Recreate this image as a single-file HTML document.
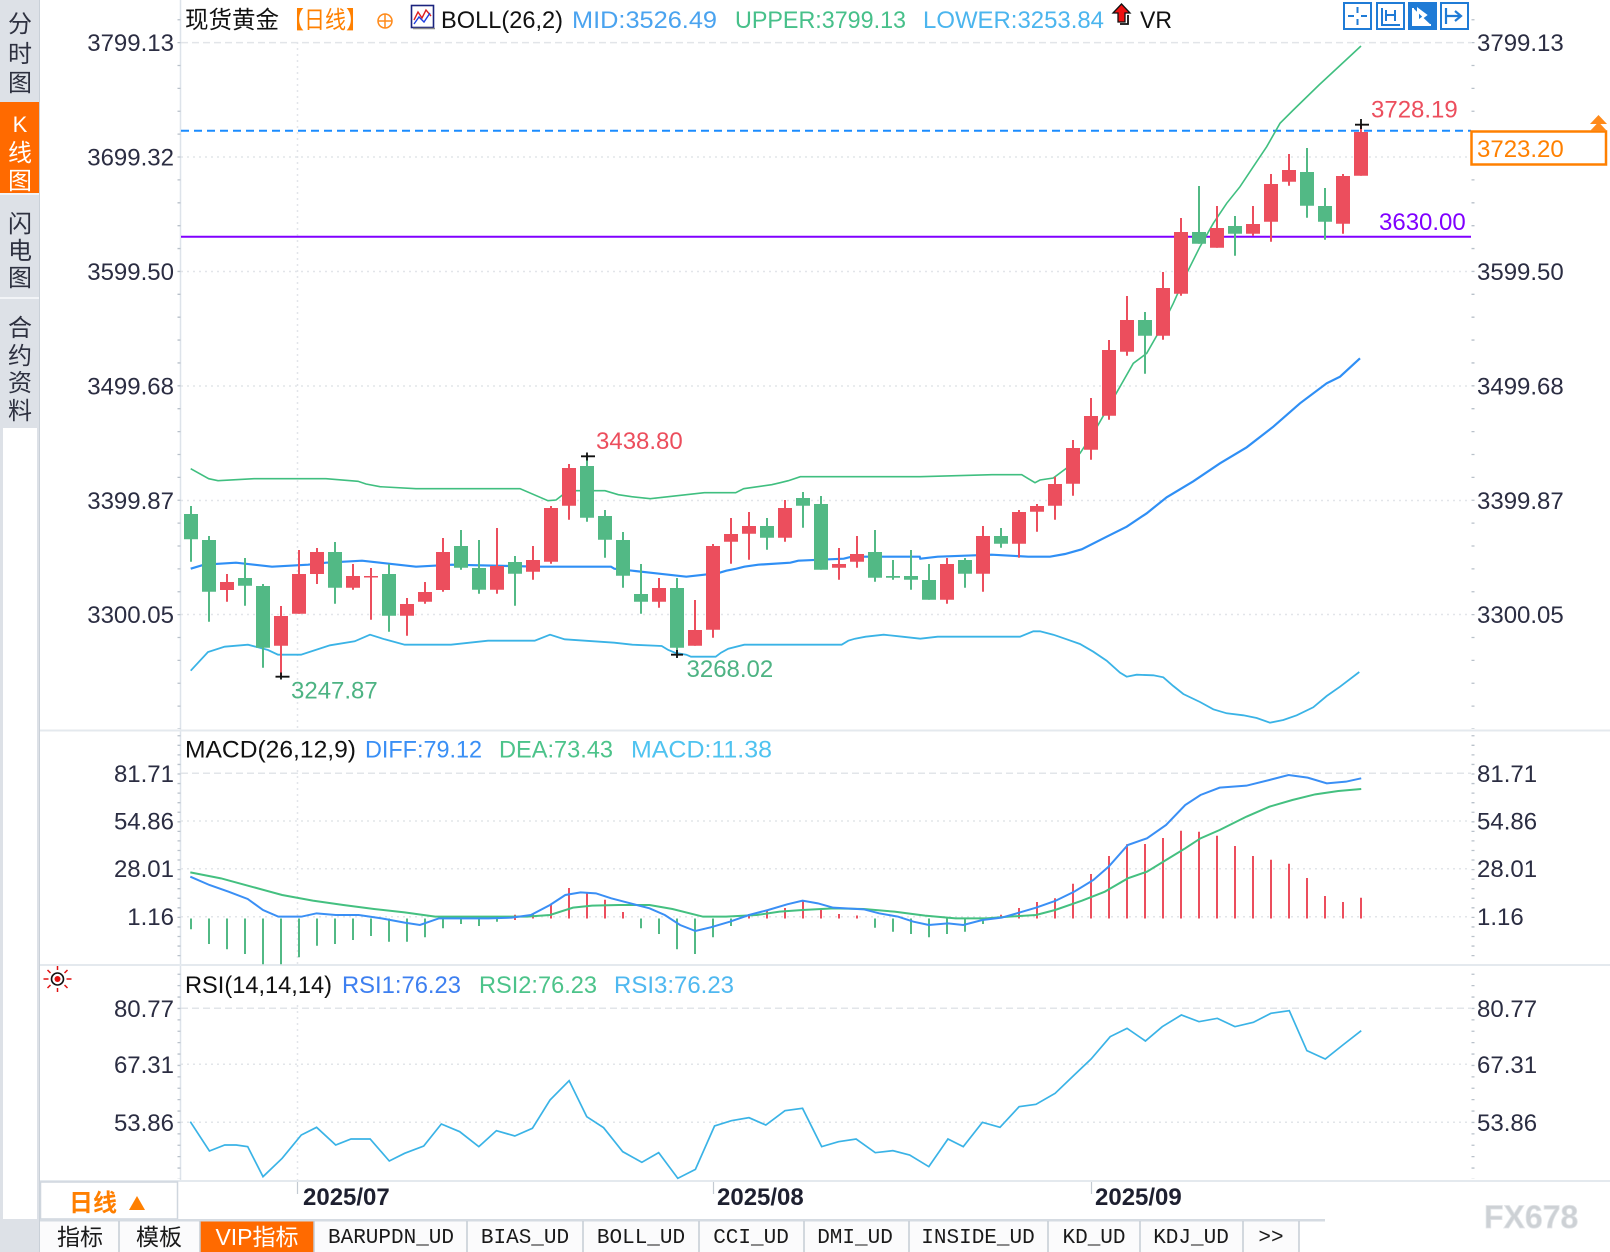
<!DOCTYPE html>
<html><head><meta charset="utf-8"><title>现货黄金 日线</title>
<style>
html,body{margin:0;padding:0;background:#fff;}
body{width:1610px;height:1252px;overflow:hidden;}
svg{display:block;}
text{font-family:"Liberation Sans","Noto Sans CJK SC",sans-serif;}
.lab{font-size:24px;fill:#2b2d42;}
.cj{font-family:"Liberation Sans","Noto Sans CJK SC",sans-serif;}
.tab{font-family:"Liberation Mono","Noto Sans CJK SC",monospace;font-size:21px;fill:#1a1a1a;}
</style></head>
<body>
<svg width="1610" height="1252" viewBox="0 0 1610 1252" xmlns="http://www.w3.org/2000/svg">
<rect x="0" y="0" width="1610" height="1252" fill="#fff"/>

<!-- ========== LEFT SIDEBAR ========== -->
<rect x="0" y="0" width="40" height="1252" fill="#dde1e7"/>
<rect x="0" y="102" width="40" height="91" fill="#ff6a00"/>
<rect x="0" y="193" width="40" height="2" fill="#f2f4f7"/>
<rect x="0" y="297" width="40" height="2" fill="#f2f4f7"/>
<rect x="3" y="428" width="34" height="791" fill="#fff"/>
<line x1="39.5" y1="0" x2="39.5" y2="1252" stroke="#c9d0d8" stroke-width="1"/>
<g class="cj" font-size="24" fill="#2e3140" text-anchor="middle">
<text x="20" y="32">分</text><text x="20" y="62">时</text><text x="20" y="91">图</text>
<text x="20" y="132" fill="#fff" font-family="Liberation Serif,serif" font-size="22">K</text><text x="20" y="161" fill="#fff">线</text><text x="20" y="189" fill="#fff">图</text>
<text x="20" y="232">闪</text><text x="20" y="259">电</text><text x="20" y="286">图</text>
<text x="20" y="336">合</text><text x="20" y="364">约</text><text x="20" y="391">资</text><text x="20" y="419">料</text>
</g>

<!-- ========== GRID ========== -->
<g stroke="#e2e5e9" stroke-width="1.5" fill="none">
<line x1="181" y1="42.6" x2="1471" y2="42.6" stroke-dasharray="7 4"/>
<line x1="181" y1="157" x2="1471" y2="157" stroke-dasharray="2 4"/>
<line x1="181" y1="271.5" x2="1471" y2="271.5" stroke-dasharray="2 4"/>
<line x1="181" y1="386" x2="1471" y2="386" stroke-dasharray="2 4"/>
<line x1="181" y1="500.5" x2="1471" y2="500.5" stroke-dasharray="2 4"/>
<line x1="181" y1="614.5" x2="1471" y2="614.5" stroke-dasharray="2 4"/>
<line x1="181" y1="773.3" x2="1471" y2="773.3" stroke-dasharray="7 4"/>
<line x1="181" y1="821" x2="1471" y2="821" stroke-dasharray="2 4"/>
<line x1="181" y1="868.7" x2="1471" y2="868.7" stroke-dasharray="2 4"/>
<line x1="181" y1="916.7" x2="1471" y2="916.7" stroke-dasharray="2 4"/>
<line x1="181" y1="1008.3" x2="1471" y2="1008.3" stroke-dasharray="7 4"/>
<line x1="181" y1="1064.3" x2="1471" y2="1064.3" stroke-dasharray="2 4"/>
<line x1="181" y1="1122.3" x2="1471" y2="1122.3" stroke-dasharray="2 4"/>
<line x1="297.5" y1="42" x2="297.5" y2="730" stroke-dasharray="2 4"/>
<line x1="297.5" y1="770" x2="297.5" y2="965" stroke-dasharray="2 4"/>
<line x1="297.5" y1="1005" x2="297.5" y2="1180" stroke-dasharray="2 4"/>
</g>
<!-- axis lines & separators -->
<line x1="180.5" y1="0" x2="180.5" y2="1181" stroke="#dde3ea" stroke-width="1.5"/>
<g stroke="#e4e9ee" stroke-width="2">
<line x1="40" y1="730.5" x2="1610" y2="730.5"/>
<line x1="40" y1="965" x2="1610" y2="965"/>
<line x1="40" y1="1181" x2="1610" y2="1181"/>
</g>
<!-- axis ticks -->
<g stroke="#b9c1ca" stroke-width="3" fill="none">
<line x1="179" y1="19.1" x2="179" y2="729" stroke-dasharray="1.3 21.58"/>
<line x1="1473" y1="19.1" x2="1473" y2="729" stroke-dasharray="1.3 21.58"/>
<line x1="179" y1="735.1" x2="179" y2="964" stroke-dasharray="1.3 8.26"/>
<line x1="1473" y1="735.1" x2="1473" y2="964" stroke-dasharray="1.3 8.26"/>
<line x1="179" y1="973.6" x2="179" y2="1179" stroke-dasharray="1.3 10.1"/>
<line x1="1473" y1="973.6" x2="1473" y2="1179" stroke-dasharray="1.3 10.1"/>
</g>

<!-- ========== AXIS LABELS ========== -->
<g class="lab" text-anchor="end">
<text x="174" y="51">3799.13</text>
<text x="174" y="165.5">3699.32</text>
<text x="174" y="280">3599.50</text>
<text x="174" y="394.5">3499.68</text>
<text x="174" y="509">3399.87</text>
<text x="174" y="623">3300.05</text>
<text x="174" y="782">81.71</text>
<text x="174" y="829.5">54.86</text>
<text x="174" y="877">28.01</text>
<text x="174" y="925">1.16</text>
<text x="174" y="1017">80.77</text>
<text x="174" y="1073">67.31</text>
<text x="174" y="1131">53.86</text>
</g>
<g class="lab">
<text x="1477" y="51">3799.13</text>
<text x="1477" y="280">3599.50</text>
<text x="1477" y="394.5">3499.68</text>
<text x="1477" y="509">3399.87</text>
<text x="1477" y="623">3300.05</text>
<text x="1477" y="782">81.71</text>
<text x="1477" y="829.5">54.86</text>
<text x="1477" y="877">28.01</text>
<text x="1477" y="925">1.16</text>
<text x="1477" y="1017">80.77</text>
<text x="1477" y="1073">67.31</text>
<text x="1477" y="1131">53.86</text>
</g>

<!-- ========== HEADER ========== -->
<g font-size="24">
<text x="185" y="28" fill="#111" textLength="94" lengthAdjust="spacingAndGlyphs">现货黄金</text>
<text x="283" y="28" fill="#ff8000" textLength="84" lengthAdjust="spacingAndGlyphs">【日线】</text>
<text x="441" y="28" fill="#111" textLength="122" lengthAdjust="spacingAndGlyphs">BOLL(26,2)</text>
<text x="572" y="28" fill="#4aa3ef" textLength="145" lengthAdjust="spacingAndGlyphs">MID:3526.49</text>
<text x="735" y="28" fill="#47c08a" textLength="171" lengthAdjust="spacingAndGlyphs">UPPER:3799.13</text>
<text x="923" y="28" fill="#4bb5ee" textLength="181" lengthAdjust="spacingAndGlyphs">LOWER:3253.84</text>
<text x="1140" y="28" fill="#111" textLength="32" lengthAdjust="spacingAndGlyphs">VR</text>
</g>
<circle cx="385" cy="21" r="7" fill="none" stroke="#ff8a1a" stroke-width="1.5"/>
<line x1="378" y1="21" x2="392" y2="21" stroke="#ff8a1a" stroke-width="1.5"/>
<line x1="385" y1="14" x2="385" y2="28" stroke="#ff8a1a" stroke-width="1.5"/>
<rect x="411.5" y="5.5" width="22" height="22" fill="#fff" stroke="#1a237e" stroke-width="1.6"/>
<polyline points="414,20 418,12 422,18 426,10 431,16" fill="none" stroke="#e02020" stroke-width="1.4"/>
<polyline points="414,24 419,17 424,22 430,13" fill="none" stroke="#2040e0" stroke-width="1.4"/>
<line x1="413" y1="28.5" x2="435" y2="28.5" stroke="#888" stroke-width="1.5"/>
<polygon points="1121.5,4 1130,13 1125,13 1125,22 1118,22 1118,13 1113,13" fill="#ee1111" stroke="#111" stroke-width="1.3"/>
<polyline points="1120,24 1128,24 1128,15" fill="none" stroke="#111" stroke-width="1.8"/>

<!-- toolbar icons -->
<g fill="none" stroke="#1f7bd6" stroke-width="2">
<rect x="1344" y="3" width="27" height="26" fill="#fff"/>
<rect x="1377" y="3" width="27" height="26" fill="#fff"/>
<rect x="1409" y="3" width="27" height="26" fill="#1f7bd6"/>
<rect x="1441" y="3" width="27" height="26" fill="#fff"/>
<path d="M1357.5 7v6M1357.5 19v6M1348 16h6M1361 16h6"/>
<path d="M1382 8v17h18M1386 10v11M1395 10v11M1386 15h9"/>
<path d="M1413 8v17h18M1418 9l8 6l-8 6z" stroke="#fff" fill="#fff"/>
<path d="M1446 8v16M1446 16h14M1455 11l6 5l-6 5" stroke-width="2.2"/>
</g>

<!-- ========== PRICE LEVEL LINES ========== -->
<line x1="181" y1="130.7" x2="1471" y2="130.7" stroke="#1a8cff" stroke-width="2" stroke-dasharray="8 5"/>
<line x1="181" y1="236.7" x2="1471" y2="236.7" stroke="#8000ff" stroke-width="2"/>

<!-- ========== BOLLINGER ========== -->
<polyline fill="none" stroke="#40bf80" stroke-width="1.6" points="190.7,468.7 208.7,478.7 218,480.7 254,478.7 326,478.7 358,481.3 366,484 380,486.7 416,488.7 520,488.7 548,500.7 556,500 568,490.7 605,490.7 618.3,494.7 631.7,496.7 650.3,498.7 668.3,496.7 686.3,494.7 704.3,492.7 735.7,492.7 743.7,488.7 757.7,486.7 771.7,484.7 780.3,482.7 788.3,480.7 800.3,476.7 920,476.7 992,474.7 1021.7,474.7 1028.3,478.7 1035,482.7 1040,480 1053.3,478 1066.7,468 1080,453.3 1093.3,433.3 1106.7,410 1120,386.7 1133.3,363.3 1146.7,353.3 1160,330 1173.3,303.3 1186.7,273.3 1200,246.7 1213.3,223.3 1226.7,203.3 1240,186.7 1253.3,166.7 1266.7,146.7 1280,123.3 1293.3,110 1319,85 1361,46"/>
<polyline fill="none" stroke="#2f8ff5" stroke-width="2.2" points="190.7,568.7 204,564.7 236,562.7 254,564.7 272,566.7 308,564.7 326,562.7 362,560.7 380,562.7 398,564.7 416,566.7 452,564.7 540,566.7 611,566.7 614.3,568.7 632.3,570.7 650.3,572.7 668.3,574.7 686.3,576.7 704.3,574.7 719.7,572.7 726.3,570.7 736.3,568.7 744.3,566.7 758.3,564.7 790.3,562.7 798.3,560.7 843.7,558.7 851.7,556.7 919.7,556.7 920.3,558.7 937.7,556.7 991.7,554.7 1028.3,556.7 1050,556.7 1065,554 1081.7,549.3 1106.7,536.7 1126.7,526.7 1146.7,513.3 1166.7,497.3 1193.3,481.3 1220,463.3 1246.7,447.3 1273.3,426.7 1300,403.3 1326.7,383.3 1340,376.7 1360,358.3"/>
<polyline fill="none" stroke="#3ab3e6" stroke-width="1.8" points="190.7,670.7 208,652 224.7,646.7 248,644.7 258,647.3 268,650 278,654.7 301,654.7 330,645.3 354.7,641.3 370,634.7 384.7,639.3 404.7,644.7 451,644.7 488,640.7 534.7,640.7 550,634.7 564.7,639.3 614.3,642.7 632.3,644.7 661.7,646 668.3,650 675,652.7 686.3,654.7 691,656.7 715.7,656.7 721,652.7 728.3,648.7 744.3,644.7 841.7,644.7 848.3,640.7 855,638.7 865.7,636.7 883.7,634.7 902.3,636.7 920.3,638.7 937.7,636.7 1020,636.7 1033.3,631.3 1040,631.3 1053.3,634.7 1066.7,639.3 1080,644 1093.3,651.7 1106.7,660.7 1120,672.7 1126.7,676.7 1136.7,674.7 1153.3,675.3 1163.3,677.3 1173.3,686 1183.3,694 1200,702 1213.3,709.3 1226.7,713.3 1243.3,715.3 1256.7,718 1270,722.7 1283.3,720 1296.7,715.3 1313.3,707.3 1326.7,696 1340,686.7 1359.3,672"/>

<!-- ========== CANDLES ========== -->
<path fill="none" stroke="#ec4e5d" stroke-width="2" d="M227 574V601.7M281 606V676.7M299 550V613.7M317 548V584M353 564V589.7M371 568V619.7M407 598V635.7M425 582V603.7M443 538V591.7M497 528V593.7M533 546V579.7M551 506V563.7M569 464V519.7M659 578V607.7M695 600V645.7M713 544V637.7M731 518V563.7M749 512V559.7M785 500V541.7M839 548V579.7M857 536V567.7M947 558V603.7M983 526V591.7M1019 510V557.7M1037 504V531.7M1055 476.7V519.7M1073 440V495.7M1091 398V459.7M1109 340V419.7M1127 296V355.7M1163 272V339.7M1181 218V295.7M1217 206V247.7M1253 206V235.7M1271 174V241.7M1289 154V185.7M1343 174V233.7M1361 124.7V175.7"/>
<path fill="none" stroke="#ec4e5d" stroke-width="14" d="M227 582V590M281 616V645.7M299 574V613.7M317 552V574M353 576V587.7M371 576V577.5M407 604V615.7M425 592V601.7M443 552V590M497 566V589.7M533 560V571.7M551 508V561.7M569 468V505.7M659 588V601.7M695 630V645.7M713 546V629.7M731 534V541.7M749 526V533.7M785 508V537.7M839 564V567.7M857 554V561.7M947 564V599.7M983 536V573.7M1019 512V543.7M1037 506V511.7M1055 484V505.7M1073 448V483.7M1091 416V449.7M1109 350V415.7M1127 320V351.7M1163 288V335.7M1181 232V293.7M1217 228V247.7M1253 224V233.7M1271 184V221.7M1289 170V181.7M1343 176V223.7M1361 132V175.7"/>
<path fill="none" stroke="#52b985" stroke-width="2" d="M191 506V561.7M209 536V621.7M245 558V605.7M263 584V667.7M335 542V603.7M389 564V631.7M461 530V569.7M479 540V593.7M515 556V605.7M587 456.7V521.7M605 510V557.7M623 532V587.7M641 564V613.7M677 578V656.7M767 518V549.7M803 492V527.7M821 496V569.7M875 530V581.7M893 560V579.7M911 550V589.7M929 564V599.7M965 558V587.7M1001 528V547.7M1145 312V373.7M1199 186V243.7M1235 216V255.7M1307 148V217.7M1325 188V239.7"/>
<path fill="none" stroke="#52b985" stroke-width="14" d="M191 514V539.3M209 540V591.7M245 578V585.7M263 586V647.7M335 552V587.7M389 574V615.7M461 546V567.7M479 568V589.7M515 562V573.7M587 466V517.7M605 516V539.7M623 540V575.7M641 594V601.7M677 588V647.7M767 526V537.7M803 498V505.7M821 504V569.7M875 552V577.7M893 576V577.7M911 576V579.7M929 580V599.7M965 560V573.7M1001 536V543.7M1145 320V335.7M1199 232V243.7M1235 226V233.7M1307 172V205.7M1325 206V221.7"/>

<!-- high/low markers -->
<g stroke="#111" stroke-width="1.8" fill="none">
<path d="M1355 124.7h14M1361 119v10"/>
<path d="M581 456.3h14M587 452.5v8"/>
<path d="M275.5 676.7h14M281 672.5v7"/>
<path d="M671 654.7h12M677 650v8"/>
</g>
<g font-size="24">
<text x="1371" y="117.5" fill="#ec4e5d">3728.19</text>
<text x="1379" y="230" fill="#8000ff">3630.00</text>
<text x="596" y="449" fill="#ec4e5d">3438.80</text>
<text x="291" y="698.5" fill="#4db383">3247.87</text>
<text x="686.5" y="677" fill="#4db383">3268.02</text>
</g>

<!-- current price box -->
<rect x="1471.5" y="131.5" width="134.5" height="33" fill="#fff" stroke="#ff8000" stroke-width="2.5"/>
<text x="1477" y="157" font-size="24" fill="#ff8000">3723.20</text>
<polygon points="1590,124 1598.5,115 1607,124" fill="#ff8a1a"/>
<polygon points="1590,131 1598.5,122 1607,131" fill="#ff8a1a"/>

<!-- ========== MACD ========== -->
<g font-size="24">
<text x="185" y="757.5" fill="#111" textLength="171" lengthAdjust="spacingAndGlyphs">MACD(26,12,9)</text>
<text x="365" y="757.5" fill="#3a8ff5" textLength="117" lengthAdjust="spacingAndGlyphs">DIFF:79.12</text>
<text x="499" y="757.5" fill="#4cc38a" textLength="114" lengthAdjust="spacingAndGlyphs">DEA:73.43</text>
<text x="631" y="757.5" fill="#4fc3f0" textLength="141" lengthAdjust="spacingAndGlyphs">MACD:11.38</text>
</g>
<path fill="none" stroke="#52b985" stroke-width="2" d="M191 918.5V929.3M209 918.5V944M227 918.5V949.3M245 918.5V954M263 918.5V964.3M281 918.5V964.3M299 918.5V957.3M317 918.5V945.7M335 918.5V944M353 918.5V940M371 918.5V936M389 918.5V941.7M407 918.5V941.7M425 918.5V937.3M443 918.5V928.3M461 918.5V924M479 918.5V926M497 918.5V921.7M641 918.5V928.3M659 918.5V934M677 918.5V949.3M695 918.5V954M713 918.5V937.3M731 918.5V926M875 918.5V927.7M893 918.5V931.7M911 918.5V934M929 918.5V937.3M947 918.5V934M965 918.5V931.7M983 918.5V924"/>
<path fill="none" stroke="#ec4e5d" stroke-width="2" d="M515 920V914.7M533 918.5V914M551 918.5V904.3M569 918.5V888M587 918.5V892.3M605 918.5V899.7M623 918.5V912M749 918.5V914M767 918.5V909.7M785 918.5V908M803 918.5V900.7M821 918.5V909M839 918.5V914M857 918.5V915.5M1001 918.5V914.7M1019 918.5V908M1037 918.5V902M1055 918.5V898.3M1073 918.5V883.7M1091 918.5V874M1109 918.5V856M1127 918.5V844.3M1145 918.5V844M1163 918.5V838M1181 918.5V830.7M1199 918.5V831.7M1217 918.5V835.7M1235 918.5V846M1253 918.5V856M1271 918.5V859.7M1289 918.5V863.7M1307 918.5V878M1325 918.5V896M1343 918.5V902M1361 918.5V897.7"/>
<g transform="translate(175 735) scale(0.765306 0.333333)">
<polyline fill="none" stroke="#44c080" stroke-width="2" vector-effect="non-scaling-stroke" points="20,412 60,430 100,455 140,480 180,497 220,510 260,522 300,532 340,545 380,545 420,545 460,545 490,540 520,518 545,512 580,510 620,510 650,522 690,545 720,545 760,540 790,530 820,525 860,520 900,522 940,530 980,542 1020,550 1060,550 1090,545 1125,540 1150,525 1185,497 1215,470 1245,430 1270,410 1295,375 1320,340 1340,310 1365,285 1400,245 1430,215 1460,195 1490,178 1520,168 1550,162"/>
<polyline fill="none" stroke="#3a8ff5" stroke-width="2" vector-effect="non-scaling-stroke" points="20,425 45,450 70,470 95,492 115,525 135,545 165,545 185,535 210,540 240,540 270,550 300,563 320,570 345,550 380,550 410,550 440,548 465,540 490,510 510,480 530,472 550,475 570,490 595,505 620,520 640,540 660,570 680,588 700,577 725,560 750,540 775,525 800,508 820,497 840,505 860,518 900,523 920,535 945,545 965,560 985,570 1010,565 1030,570 1055,555 1080,548 1100,535 1125,518 1150,498 1175,470 1200,435 1220,395 1245,330 1270,310 1295,270 1320,210 1340,180 1365,158 1400,152 1430,135 1455,120 1480,128 1505,145 1530,140 1550,130"/>
</g>

<!-- ========== RSI ========== -->
<g transform="translate(57.5 979)">
<circle r="6" fill="#fff" stroke="#111" stroke-width="1.6"/>
<circle r="3" fill="#e01010"/>
<g stroke="#e01010" stroke-width="1.5">
<line x1="-14" y1="0" x2="-9" y2="0"/><line x1="9" y1="0" x2="14" y2="0"/>
<line x1="0" y1="-13" x2="0" y2="-9"/><line x1="0" y1="9" x2="0" y2="13"/>
<line x1="-10" y1="-9" x2="-7" y2="-6"/><line x1="7" y1="6" x2="10" y2="9"/>
<line x1="10" y1="-9" x2="7" y2="-6"/><line x1="-7" y1="6" x2="-10" y2="9"/>
</g>
</g>
<g font-size="24">
<text x="185" y="993" fill="#111" textLength="147" lengthAdjust="spacingAndGlyphs">RSI(14,14,14)</text>
<text x="342" y="993" fill="#3d7ff0" textLength="119" lengthAdjust="spacingAndGlyphs">RSI1:76.23</text>
<text x="479" y="993" fill="#4cc38a" textLength="118" lengthAdjust="spacingAndGlyphs">RSI2:76.23</text>
<text x="614" y="993" fill="#4fb8f0" textLength="120" lengthAdjust="spacingAndGlyphs">RSI3:76.23</text>
</g>
<g transform="translate(175 965) scale(0.765306 0.333333)">
<polyline fill="none" stroke="#3ab3e6" stroke-width="1.7" vector-effect="non-scaling-stroke" points="20,470 45,558 65,540 80,540 95,545 115,635 140,580 165,510 185,487 210,540 230,522 255,522 280,588 300,565 325,543 348,477 372,500 397,545 420,497 444,513 467,490 490,405 515,347 538,455 560,488 585,560 610,592 632,563 657,640 680,613 705,483 727,467 750,458 772,480 797,437 820,430 845,545 867,530 890,522 915,563 938,557 960,570 985,605 1010,522 1030,545 1055,472 1078,487 1103,425 1125,418 1150,385 1175,330 1197,282 1222,215 1244,190 1268,228 1290,185 1315,150 1338,170 1362,160 1385,185 1409,172 1432,145 1456,137 1479,257 1503,282 1526,240 1550,197"/>
</g>

<!-- ========== DATE AXIS ========== -->
<rect x="40.5" y="1182" width="137" height="37" fill="#fff" stroke="#cfd6de" stroke-width="1.5"/>
<text x="69" y="1211" font-size="24" font-weight="bold" fill="#ff7f00">日线</text>
<polygon points="129,1210 137,1196 145,1210" fill="#ff7f00"/>
<g stroke="#c3cad2" stroke-width="1.2">
<line x1="297.5" y1="1182" x2="297.5" y2="1194"/>
<line x1="713.5" y1="1182" x2="713.5" y2="1194"/>
<line x1="1091.5" y1="1182" x2="1091.5" y2="1194"/>
</g>
<g font-size="24" font-weight="bold" fill="#1e2030">
<text x="303" y="1205">2025/07</text>
<text x="717" y="1205">2025/08</text>
<text x="1095" y="1205">2025/09</text>
</g>
<text x="1484" y="1228" font-size="32" font-weight="bold" fill="#cdd1d5" stroke="#e2e5e8" stroke-width="0.8">FX678</text>

<!-- ========== BOTTOM TABS ========== -->
<rect x="40" y="1219" width="1285" height="2.5" fill="#d5dbe2"/>
<rect x="40" y="1221.5" width="1259" height="30.5" fill="#fbfbfc"/>
<rect x="200" y="1221.5" width="114" height="30.5" fill="#ff6a00"/>
<g stroke="#c5ccd4" stroke-width="1.5">
<line x1="119" y1="1221" x2="119" y2="1252"/><line x1="200" y1="1221" x2="200" y2="1252"/>
<line x1="314" y1="1221" x2="314" y2="1252"/><line x1="467" y1="1221" x2="467" y2="1252"/>
<line x1="583" y1="1221" x2="583" y2="1252"/><line x1="699" y1="1221" x2="699" y2="1252"/>
<line x1="804" y1="1221" x2="804" y2="1252"/><line x1="909" y1="1221" x2="909" y2="1252"/>
<line x1="1048" y1="1221" x2="1048" y2="1252"/><line x1="1140" y1="1221" x2="1140" y2="1252"/>
<line x1="1243" y1="1221" x2="1243" y2="1252"/><line x1="1299" y1="1221" x2="1299" y2="1252"/>
</g>
<g text-anchor="middle">
<text x="80" y="1245" font-size="23" fill="#1a1a1a">指标</text>
<text x="159" y="1245" font-size="23" fill="#1a1a1a">模板</text>
<text x="257" y="1245" font-size="23" fill="#fff">VIP指标</text>
<text class="tab" x="391" y="1243">BARUPDN_UD</text>
<text class="tab" x="525" y="1243">BIAS_UD</text>
<text class="tab" x="641" y="1243">BOLL_UD</text>
<text class="tab" x="751" y="1243">CCI_UD</text>
<text class="tab" x="855" y="1243">DMI_UD</text>
<text class="tab" x="978" y="1243">INSIDE_UD</text>
<text class="tab" x="1094" y="1243">KD_UD</text>
<text class="tab" x="1191" y="1243">KDJ_UD</text>
<text class="tab" x="1271" y="1243">&gt;&gt;</text>
</g>
</svg>
</body></html>
